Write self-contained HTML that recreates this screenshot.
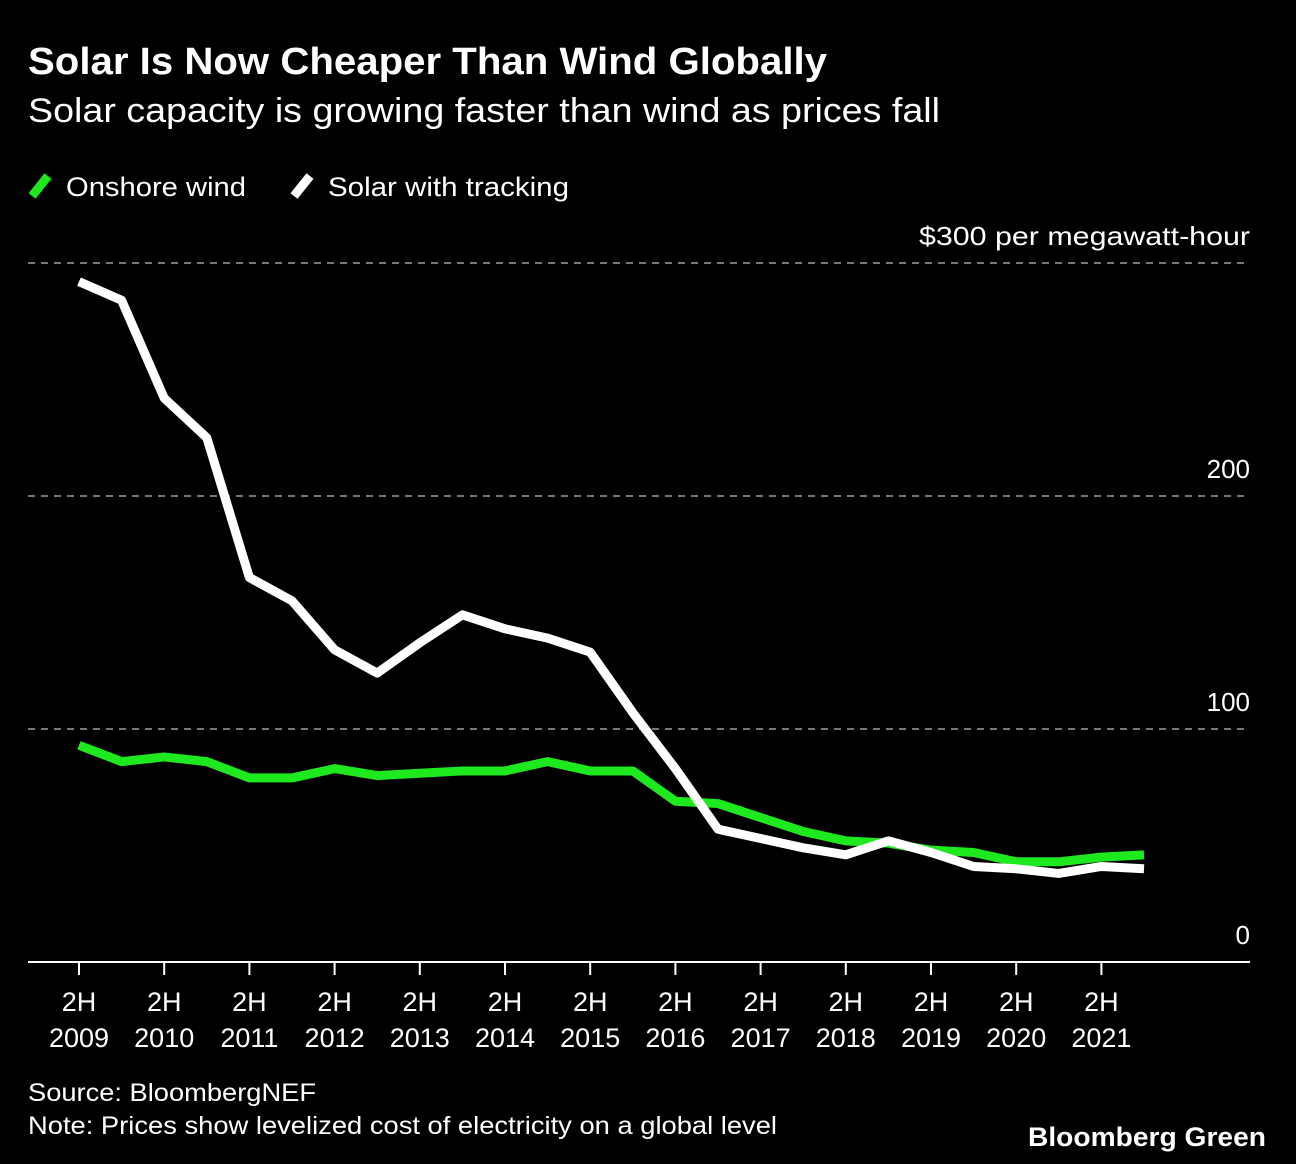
<!DOCTYPE html>
<html><head><meta charset="utf-8"><style>
body{margin:0;background:#000;width:1296px;height:1164px;overflow:hidden;font-family:"Liberation Sans",sans-serif;color:#fff}
svg{position:absolute;left:0;top:0}
</style></head><body>
<svg width="1296" height="1164" id="chart">
<text x="28" y="74" font-size="38" font-weight="bold" fill="#fff" textLength="799" lengthAdjust="spacingAndGlyphs">Solar Is Now Cheaper Than Wind Globally</text>
<text x="28" y="122" font-size="34" fill="#fff" textLength="912" lengthAdjust="spacingAndGlyphs">Solar capacity is growing faster than wind as prices fall</text>
<g>
<line x1="32" y1="196" x2="48" y2="176" stroke="#1ee81e" stroke-width="9"/>
<text x="66" y="196" font-size="27" fill="#fff" textLength="180" lengthAdjust="spacingAndGlyphs">Onshore wind</text>
<line x1="294" y1="196" x2="310" y2="176" stroke="#fff" stroke-width="9"/>
<text x="328" y="196" font-size="27" fill="#fff" textLength="241" lengthAdjust="spacingAndGlyphs">Solar with tracking</text>
</g>
<g id="grid"></g><g id="xaxis"></g><g id="series"></g>
<text x="28" y="1101" font-size="25" fill="#fff" textLength="288" lengthAdjust="spacingAndGlyphs">Source: BloombergNEF</text>
<text x="28" y="1134" font-size="25" fill="#fff" textLength="749" lengthAdjust="spacingAndGlyphs">Note: Prices show levelized cost of electricity on a global level</text>
<text x="1266" y="1146" font-size="27" font-weight="bold" fill="#fff" text-anchor="end" textLength="238" lengthAdjust="spacingAndGlyphs">Bloomberg Green</text>
</svg>
<script>
const yTicks=[0,100,200,300];
const yTickLabels=["0","100","200","$300 per megawatt-hour"];
const xYears=["2009","2010","2011","2012","2013","2014","2015","2016","2017","2018","2019","2020","2021"];
const solar=[292,284,242,225,165,155,134,124,137,149,143,139,133,107,83,57,53,49,46,52,47,41,40,38,41,40];
const wind=[93,86,88,86,79,79,83,80,81,82,82,86,82,82,69,68,62,56,52,51,48,47,43,43,45,46];
const NS="http://www.w3.org/2000/svg";
const y=v=>962-v*2.33;
const x=i=>79+i*42.6;
function mk(tag,attrs,parent){const e=document.createElementNS(NS,tag);for(const k in attrs)e.setAttribute(k,attrs[k]);document.getElementById(parent).appendChild(e);return e;}
yTicks.forEach((t,i)=>{
  if(t>0){const l=mk('line',{x1:28,x2:1250,y1:y(t),y2:y(t),stroke:'#777','stroke-width':2,'stroke-dasharray':'7,6'},'grid');
  
  }
  const attrs={x:1250,y:y(t)-18+(t==0?-8:0),'font-size':26,fill:'#fff','text-anchor':'end'};
  if(t==300){attrs.textLength=331;attrs.lengthAdjust='spacingAndGlyphs';}
  if(t==0){attrs.y=944;}
  const tx=mk('text',attrs,'grid');
  tx.textContent=yTickLabels[i];
  
  
});
const ax=mk('line',{x1:28,x2:1250,y1:962,y2:962,stroke:'#fff','stroke-width':2},'xaxis');


xYears.forEach((yr,i)=>{
  const xx=x(i*2);
  const tk=mk('line',{x1:xx,x2:xx,y1:962,y2:975,stroke:'#fff','stroke-width':2},'xaxis');
  
  
  const t=mk('text',{x:xx,'font-size':27,fill:'#fff','text-anchor':'middle'},'xaxis');
  
  
  const a=document.createElementNS(NS,'tspan');a.setAttribute('x',xx);a.setAttribute('y',1011);a.textContent='2H';t.appendChild(a);
  const b=document.createElementNS(NS,'tspan');b.setAttribute('x',xx);b.setAttribute('y',1047);b.textContent=yr;t.appendChild(b);
});
function line(data,color,name){
  const p=mk('polyline',{points:data.map((v,i)=>x(i)+','+y(v)).join(' '),fill:'none',stroke:color,'stroke-width':9,'stroke-linejoin':'round'},'series');
  
  
}
line(wind,'#1ee81e','wind-line');
line(solar,'#fff','solar-line');
</script>
</body></html>
